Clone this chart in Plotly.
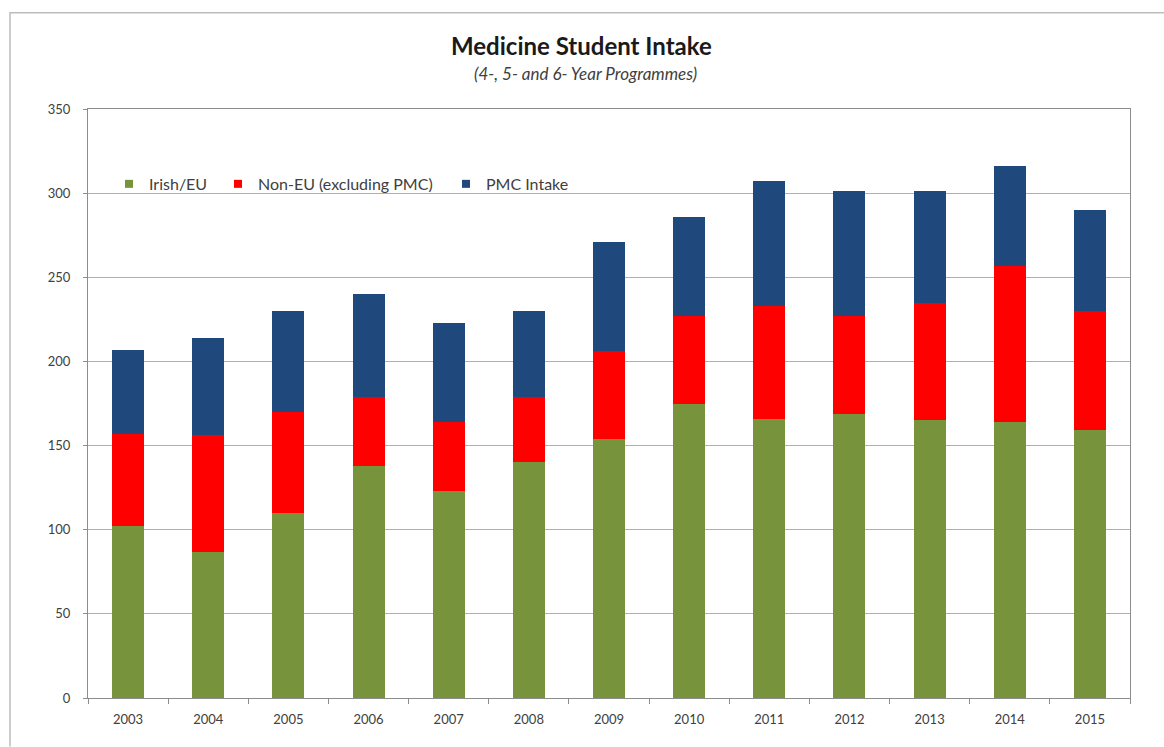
import plotly.graph_objects as go

# Intake by year, in students
years = ["2003", "2004", "2005", "2006", "2007", "2008", "2009",
         "2010", "2011", "2012", "2013", "2014", "2015"]
irish_eu = [102, 87, 110, 138, 123, 140, 154, 175, 166, 169, 165, 164, 159]
non_eu = [55, 69, 60, 41, 41, 39, 52, 52, 67, 58, 70, 93, 71]
pmc_intake = [50, 58, 60, 61, 59, 51, 65, 59, 74, 74, 66, 59, 60]

series = [
    ("Irish/EU", irish_eu, "#77933C", "legend"),
    ("Non-EU (excluding PMC)", non_eu, "#FF0000", "legend2"),
    ("PMC Intake", pmc_intake, "#1F497D", "legend3"),
]

W, H = 1164, 747
L, R, T, B = 88, 34, 109, 48.5
pw, ph = W - L - R, H - T - B
FONT = "Lato, 'Open Sans', sans-serif"


def px_x(x):
    return (x - L) / pw


def px_y(y):
    return (H - B - y) / ph


fig = go.Figure()
for name, vals, color, leg in series:
    fig.add_trace(go.Bar(x=years, y=vals, name=name, marker_color=color,
                         marker_line_width=0, showlegend=False))
    # legend swatch
    fig.add_trace(go.Scatter(x=[None], y=[None], mode="markers", name=name,
                             marker=dict(symbol="square", size=8, color=color),
                             legend=leg, showlegend=True))

legend_font = dict(family=FONT, size=16, color="#404040")
legend_common = dict(orientation="h", bgcolor="rgba(0,0,0,0)", borderwidth=0,
                     font=legend_font, yanchor="middle", xanchor="left",
                     itemclick=False, itemdoubleclick=False)

fig.update_layout(
    width=W, height=H,
    margin=dict(l=L, r=R, t=T, b=B),
    barmode="stack",
    bargap=0.6,
    plot_bgcolor="white",
    paper_bgcolor="white",
    font=dict(family=FONT, color="#404040"),
    legend=dict(x=px_x(109), y=px_y(184), **legend_common),
    legend2=dict(x=px_x(218), y=px_y(184), **legend_common),
    legend3=dict(x=px_x(446), y=px_y(184), **legend_common),
    xaxis=dict(
        type="category",
        showline=True, linecolor="#8c8c8c", linewidth=1, mirror=True,
        ticks="outside", tickson="boundaries", ticklen=5, tickcolor="#8c8c8c",
        tickfont=dict(size=13, color="#404040"),
        ticklabelstandoff=9,
        showgrid=False,
    ),
    yaxis=dict(
        range=[0, 350], dtick=50,
        showline=True, linecolor="#8c8c8c", linewidth=1, mirror=True,
        ticks="outside", ticklen=4, tickcolor="#8c8c8c",
        tickfont=dict(size=13, color="#404040"),
        ticklabelstandoff=10,
        showgrid=True, gridcolor="#b0b0b0", gridwidth=1,
        zeroline=False,
    ),
    annotations=[
        dict(text="<b>Medicine Student Intake</b>", xref="paper", yref="paper",
             x=px_x(581), y=px_y(45), showarrow=False, xanchor="center", yanchor="middle",
             font=dict(size=24, color="#1a1a1a", family=FONT)),
        dict(text="<i>(4-, 5- and 6- Year Programmes)</i>", xref="paper", yref="paper",
             x=px_x(585), y=px_y(73), showarrow=False, xanchor="center", yanchor="middle",
             font=dict(size=17, color="#404040", family=FONT)),
    ],
    shapes=[
        dict(type="path", xref="paper", yref="paper",
             path=f"M {px_x(10)},{px_y(747)} L {px_x(10)},{px_y(12.7)} L {px_x(1164)},{px_y(12.7)}",
             line=dict(color="#bdbdbd", width=1.5), layer="above"),
    ],
)

fig.write_html("out.html")
